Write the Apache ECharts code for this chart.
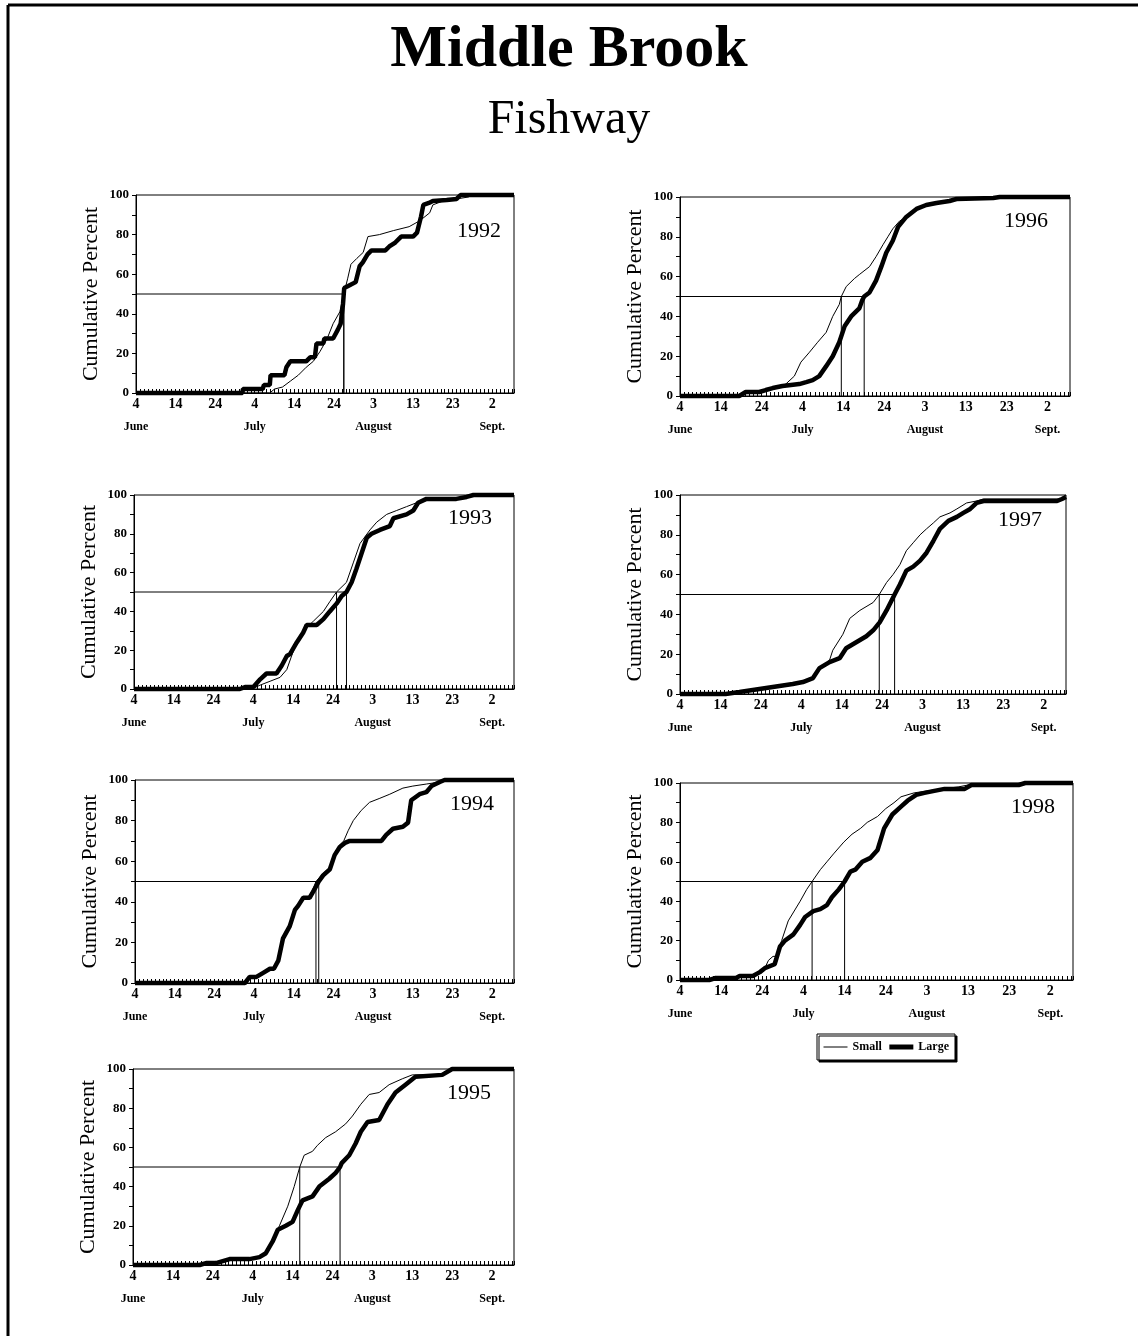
<!DOCTYPE html>
<html>
<head>
<meta charset="utf-8">
<title>Middle Brook Fishway</title>
<script src="https://cdn.jsdelivr.net/npm/echarts@6/dist/echarts.min.js"></script>
<style>
  html, body { margin: 0; padding: 0; background: #fff; }
  #chart { width: 1138px; height: 1336px; }
</style>
</head>
<body>
<div id="chart"></div>
<script>
// x = days after June 4, y = cumulative percent
const tickDays = [0, 10, 20, 30, 40, 50, 60, 70, 80, 90]
const tickLabels = ['4', '14', '24', '4', '14', '24', '3', '13', '23', '2']
const monthLabels = ['June', '', '', 'July', '', '', 'August', '', '', 'Sept.']

const years = ['1992', '1996', '1993', '1997', '1994', '1998', '1995']

const small1992 = [[0,0],[33.8,0],[35,2],[37,3],[39,6],[41,9],[43,13],[44.8,16],[46.5,21],[48.2,27],[49.8,35],[51.5,41],[52.5,50],[53.5,58],[54.3,65],[55.8,68],[57.4,71],[58.6,79],[61.5,80],[65,82],[69,84],[71.7,87],[74.2,91],[75,95],[77.6,97],[81,98],[84,99],[85,100],[95.5,100]]
const large1992 = [[0,0],[26.9,0],[27,2],[32,2],[32.3,4],[33.8,4],[34,9],[37.5,9],[38,13],[39,16],[43,16],[44,18],[45.2,18],[45.6,25],[47.3,25],[47.6,27.5],[49.8,27.5],[51,32],[51.7,35],[52.3,45],[52.6,53],[53.6,54],[55.5,56],[56.5,64],[57.3,66],[58.5,70],[59.5,72],[63,72],[64,74],[65.5,76],[67,79],[70,79],[71,81],[72,89],[72.6,95],[74,96],[75,97],[78.5,97.5],[81,98],[82,100],[95.5,100]]

const small1996 = [[0,0],[14.5,0],[16,2],[21,3],[24.3,4],[25.9,6],[28,10],[29.6,17],[31.7,22],[33.7,27],[35.8,32],[37.4,40],[39,46],[39.5,50],[40.7,55],[42.7,59],[43.9,61],[46.4,65],[48,70],[49.7,76],[50.9,80],[52.1,84],[53.8,88],[55.8,90],[57.4,93],[58.5,95],[60.3,96],[62.8,97],[66,98],[67.7,99],[76.7,99.5],[78.3,100],[95.5,100]]
const large1996 = [[0,0],[14.5,0],[16.1,2],[19.4,2],[21,3],[22.7,4],[25.1,5],[29.2,6],[30.9,7],[32.5,8],[34.1,10],[35.8,15],[37.4,20],[39,27],[40.3,35],[41.9,40],[43.9,44],[44.6,48],[45.1,50],[46.4,52],[48,58],[49.3,65],[50.5,72],[52.1,78],[53.4,85],[55.4,90],[57.9,94],[60.3,96],[62.8,97],[66,98],[67.7,99],[76.7,99.5],[78.3,100],[95.5,100]]

const small1993 = [[0,0],[29.6,0],[31.7,2],[34.2,4],[36.7,6],[38.4,10],[39.6,17],[40.9,24],[42.5,30],[45.1,35],[47.6,40],[49.2,45],[50.9,50],[53.4,55],[55.1,65],[56.8,75],[59.3,82],[61,86],[63.5,90],[66,92],[68.5,94],[71,96],[73.5,98],[81,98],[83.6,99],[85.3,100],[95.5,100]]
const large1993 = [[0,0],[26.6,0],[27.9,1],[30,1],[31.7,5],[33.3,8],[35.8,8],[37.1,12],[38.4,17],[39.2,18],[40.9,24],[42.5,29],[43.4,33],[45.9,33],[47.6,36],[49.2,40],[50.9,44],[52.2,48],[53.4,50],[54.7,55],[55.9,62],[57.2,70],[58.5,78],[59.7,80],[61.8,82],[64.3,84],[65.2,88],[68.5,90],[70.2,92],[71.4,96],[73.5,98],[81,98],[83.6,99],[85.3,100],[95.5,100]]

const small1997 = [[0,0],[11.3,0],[14.7,1],[18,2],[21.3,3],[24.6,4],[27.9,5],[30.4,6],[32.9,8],[34.5,13],[37,17],[37.8,22],[40.3,30],[42,38],[44.5,42],[47.8,46],[49.3,50],[51.1,56],[52.7,60],[54.4,65],[56,72],[57.7,76],[59.4,80],[61,83],[62.7,86],[64.3,89],[66.8,91],[68.5,93],[70.9,96],[73.4,97],[75.1,98],[94,98],[95.5,100]]
const large1997 = [[0,0],[11.3,0],[14.7,1],[18,2],[21.3,3],[24.6,4],[27.9,5],[30.4,6],[32.9,8],[34.5,13],[37,16],[39.5,18],[41.1,23],[43.6,26],[46.1,29],[47.8,32],[49.4,36],[51.1,42],[53.1,50],[54.4,55],[56,62],[57.7,64],[59.4,67],[61,71],[62.7,77],[64.3,83],[66.4,87],[68.5,89],[70.1,91],[71.8,93],[73.4,96],[75.1,97],[93.3,97],[94.5,98],[95.5,99]]

const small1994 = [[0,0],[27.7,0],[28.9,3],[30.6,3],[32.3,5],[34,7],[35.3,8],[36.1,11],[37.3,21],[39,28],[40.3,35],[41.1,38],[42.4,41],[44,43],[45,47],[45.6,50],[47.4,54],[49.1,57],[50.3,62],[51.6,68],[52.6,70],[53.7,75],[55,80],[57,85],[59.1,89],[61.7,91],[64.2,93],[67.5,96],[70,97],[73.4,98],[76.8,99],[78.4,100],[95.5,100]]
const large1994 = [[0,0],[27.7,0],[28.9,3],[30.6,3],[32.3,5],[34,7],[35,7],[36.1,11],[37.3,22],[39,28],[40.3,36],[41.1,38],[42.4,42],[44,42],[44.9,45],[46.3,50],[47.4,53],[49.1,56],[50.3,63],[51.6,67],[52.9,69],[54.1,70],[62.1,70],[63.3,73],[65,76],[67.5,77],[68.8,79],[69.6,90],[71.7,93],[73.4,94],[74.7,97],[76.8,99],[78,100],[95.5,100]]

const small1998 = [[0,0],[7.1,0],[8.7,1],[13.6,1],[14.5,2],[17.7,2],[19.4,4],[20.6,6],[21.5,10],[22.6,12],[23.3,12],[24.7,20],[26.3,30],[29.2,40],[30.8,46],[32.1,50],[34.1,56],[35.7,60],[37.3,64],[39.8,70],[41.8,74],[43.9,77],[45.5,80],[48,83],[50,87],[52,90],[53.7,93],[56.9,95],[60.2,96],[63.5,97],[67.6,98],[70,99],[82.3,99],[83.9,100],[95.5,100]]
const large1998 = [[0,0],[7.1,0],[8.7,1],[13.6,1],[14.5,2],[17.7,2],[19.4,4],[20.6,6],[23,8],[24.3,17],[25.5,20],[27.5,23],[29.2,28],[30.4,32],[32.4,35],[34.1,36],[35.7,38],[36.9,42],[38.6,46],[40,50],[41.4,55],[42.6,56],[44.3,60],[46.3,62],[48,66],[49.6,77],[51.6,84],[53.7,88],[55.3,91],[57.4,94],[59.4,95],[61.8,96],[64.3,97],[69.2,97],[70.8,99],[82.3,99],[83.9,100],[95.5,100]]

const small1995 = [[0,0],[16.7,0],[18.3,1],[20.8,1],[24.2,3],[29.2,3],[31.7,4],[33.3,6],[35,13],[36.7,20],[38.8,30],[40.4,40],[41.8,50],[42.9,56],[45,58],[46.2,61],[48.3,65],[50.8,68],[53.3,72],[55,76],[57.1,82],[59.2,87],[61.7,88],[64.2,92],[67.5,95],[70,97],[77.5,97],[80,100],[95.5,100]]
const large1995 = [[0,0],[16.7,0],[18.3,1],[20.8,1],[24.2,3],[29.2,3],[31.7,4],[33.3,6],[35,12],[36.3,18],[38.3,20],[40,22],[41.3,28],[42.5,33],[45,35],[46.7,40],[49.2,44],[50.8,47],[51.9,50],[52.3,52],[54.2,56],[55.8,62],[57.1,68],[58.8,73],[61.7,74],[63.8,82],[65.8,88],[68.3,92],[70.8,96],[77.5,97],[80,100],[95.5,100]]

// day of 50% passage, same order as years
const medianSmall = [52.5, 39.5, 50.9, 49.3, 45.6, 32.1, 41.8]
const medianLarge = [52.5, 45.1, 53.4, 53.1, 46.3, 40.0, 51.9]

const smallSeries = [small1992, small1996, small1993, small1997, small1994, small1998, small1995]
const largeSeries = [large1992, large1996, large1993, large1997, large1994, large1998, large1995]

// plot boxes [left, top, width, height] and year label centres
const boxes = [
  [136, 195, 378, 198], [680, 197, 390, 199],
  [134, 495, 380, 194], [680, 495, 386, 199],
  [135, 780, 379, 203], [680, 783, 393, 197],
  [133, 1069, 381, 196]
]
const yearPos = [[479, 231], [1026, 221], [470, 518], [1020, 520], [472, 804], [1033, 807], [469, 1093]]

const SERIF = "'Liberation Serif', 'Times New Roman', serif"
const BLACK = '#000'

const chart = echarts.init(document.getElementById('chart'))

const grid = boxes.map(b => ({
  left: b[0], top: b[1], width: b[2], height: b[3],
  show: true, borderColor: BLACK, borderWidth: 1, backgroundColor: 'transparent'
}))

const xAxis = boxes.map((b, i) => ({
  gridIndex: i,
  type: 'value',
  min: 0,
  max: 95.5,
  interval: 1,
  axisLine: { show: true, onZero: false, lineStyle: { color: BLACK, width: 1 } },
  axisTick: { show: true, inside: true, length: 4, lineStyle: { color: BLACK, width: 1 } },
  splitLine: { show: false },
  axisLabel: {
    margin: 4,
    color: BLACK,
    formatter: v => {
      const d = Math.round(v)
      if (Math.abs(v - d) > 0.01) return ''
      const k = tickDays.indexOf(d)
      if (k < 0) return ''
      return monthLabels[k]
        ? '{d|' + tickLabels[k] + '}\n{m|' + monthLabels[k] + '}'
        : '{d|' + tickLabels[k] + '}'
    },
    rich: {
      d: { fontFamily: SERIF, fontWeight: 'bold', fontSize: 14, lineHeight: 14, color: BLACK },
      m: { fontFamily: SERIF, fontWeight: 'bold', fontSize: 12, lineHeight: 31, color: BLACK }
    }
  }
}))

const yAxis = boxes.map((b, i) => ({
  gridIndex: i,
  type: 'value',
  min: 0,
  max: 100,
  interval: 20,
  name: 'Cumulative Percent',
  nameLocation: 'middle',
  nameGap: 34,
  nameTextStyle: { fontFamily: SERIF, fontSize: 22, color: BLACK },
  axisLine: { show: true, lineStyle: { color: BLACK, width: 1 } },
  axisTick: { show: true, length: 4, lineStyle: { color: BLACK } },
  minorTick: { show: true, splitNumber: 2, length: 4, lineStyle: { color: BLACK } },
  splitLine: { show: false },
  axisLabel: { margin: 7, fontFamily: SERIF, fontWeight: 'bold', fontSize: 13, color: BLACK }
}))

const series = []
years.forEach((y, i) => {
  const late = Math.max(medianSmall[i], medianLarge[i])
  const early = Math.min(medianSmall[i], medianLarge[i])
  series.push({
    type: 'line', xAxisIndex: i, yAxisIndex: i, symbol: 'none', silent: true,
    data: [[0, 50], [late, 50], [late, 0]],
    lineStyle: { color: BLACK, width: 1 }, z: 2
  })
  series.push({
    type: 'line', xAxisIndex: i, yAxisIndex: i, symbol: 'none', silent: true,
    data: [[early, 50], [early, 0]],
    lineStyle: { color: BLACK, width: 1 }, z: 2
  })
  series.push({
    name: 'Small', type: 'line', xAxisIndex: i, yAxisIndex: i, symbol: 'none', clip: false,
    data: smallSeries[i],
    lineStyle: { color: BLACK, width: 1 }, itemStyle: { color: BLACK }, z: 3
  })
  series.push({
    name: 'Large', type: 'line', xAxisIndex: i, yAxisIndex: i, symbol: 'none', clip: false,
    data: largeSeries[i],
    lineStyle: { color: BLACK, width: 4.5 }, itemStyle: { color: BLACK }, z: 4
  })
})

const graphic = [
  { type: 'line', shape: { x1: 8, y1: 5, x2: 1138, y2: 5 }, style: { stroke: BLACK, lineWidth: 3 } },
  { type: 'line', shape: { x1: 8, y1: 5, x2: 8, y2: 1336 }, style: { stroke: BLACK, lineWidth: 3 } },
  {
    type: 'text', x: 569, y: 50,
    style: { text: 'Middle Brook', font: 'bold 60px ' + SERIF, fill: BLACK, textAlign: 'center', textVerticalAlign: 'middle' }
  },
  {
    type: 'text', x: 569, y: 120,
    style: { text: 'Fishway', font: '48px ' + SERIF, fill: BLACK, textAlign: 'center', textVerticalAlign: 'middle' }
  }
].concat(years.map((y, i) => ({
  type: 'text', x: yearPos[i][0], y: yearPos[i][1], z: 10,
  style: { text: y, font: '22px ' + SERIF, fill: BLACK, textAlign: 'center', textVerticalAlign: 'middle' }
})))

chart.setOption({
  animation: false,
  backgroundColor: '#fff',
  grid,
  xAxis,
  yAxis,
  series,
  graphic,
  legend: {
    data: [
      { name: 'Small', lineStyle: { width: 1 }, itemStyle: { opacity: 0 } },
      { name: 'Large', lineStyle: { width: 5 }, itemStyle: { opacity: 0 } }
    ],
    left: 817,
    top: 1034,
    itemWidth: 24,
    itemHeight: 8,
    itemGap: 5,
    padding: [7, 6],
    selectedMode: false,
    borderColor: BLACK,
    borderWidth: 1,
    backgroundColor: '#fff',
    shadowColor: BLACK,
    shadowOffsetX: 2,
    shadowOffsetY: 2,
    shadowBlur: 0,
    textStyle: { fontFamily: SERIF, fontWeight: 'bold', fontSize: 12, color: BLACK }
  }
})
</script>
</body>
</html>
